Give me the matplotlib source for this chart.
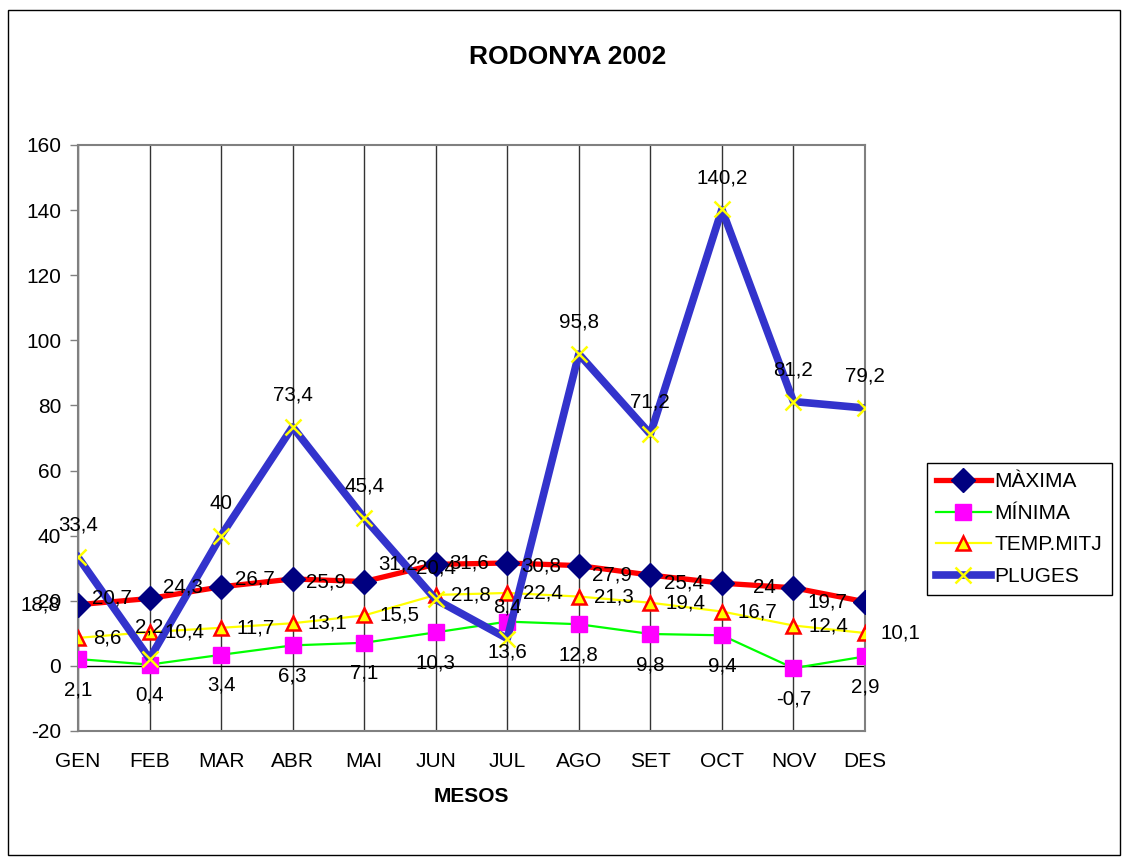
import matplotlib
matplotlib.use("Agg")
import matplotlib.pyplot as plt
from matplotlib.patches import Rectangle

plt.rcParams['font.family'] = ['Liberation Sans', 'DejaVu Sans']

# ---- data ----
mesos = ["GEN", "FEB", "MAR", "ABR", "MAI", "JUN", "JUL", "AGO", "SET", "OCT", "NOV", "DES"]
maxima = [18.8, 20.7, 24.3, 26.7, 25.9, 31.2, 31.6, 30.8, 27.9, 25.4, 24, 19.7]
minima = [2.1, 0.4, 3.4, 6.3, 7.1, 10.3, 13.6, 12.8, 9.8, 9.4, -0.7, 2.9]
temp_mitj = [8.6, 10.4, 11.7, 13.1, 15.5, 21.8, 22.4, 21.3, 19.4, 16.7, 12.4, 10.1]
pluges = [33.4, 2.2, 40, 73.4, 45.4, 20.4, 8.4, 95.8, 71.2, 140.2, 81.2, 79.2]
y_ticks = [-20, 0, 20, 40, 60, 80, 100, 120, 140, 160]


def fmt(v):
    s = f"{v:g}"
    return s.replace(".", ",")


W, H = 1129, 858
fig = plt.figure(figsize=(W / 100, H / 100), dpi=100)
ax = fig.add_axes([78 / W, 1 - 731 / H, (865 - 78) / W, (731 - 145) / H])

x = list(range(len(mesos)))

ax.plot(x, maxima, color='#FF0000', linewidth=3.8, marker='D', markersize=12,
        markerfacecolor='#000080', markeredgecolor='#000080', label='MÀXIMA', zorder=3)
ax.plot(x, minima, color='#00FF00', linewidth=1.6, marker='s', markersize=11,
        markerfacecolor='#FF00FF', markeredgecolor='#FF00FF', label='MÍNIMA', zorder=4)
ax.plot(x, temp_mitj, color='#FFFF00', linewidth=1.6, marker='^', markersize=10,
        markerfacecolor='#FFFF00', markeredgecolor='#FF0000', markeredgewidth=1.8,
        label='TEMP.MITJ', zorder=5)
ax.plot(x, pluges, color='#3333CC', linewidth=5.5, marker='x', markersize=12,
        markeredgecolor='#FFFF00', markeredgewidth=1.8, label='PLUGES', zorder=6)

# data labels (Excel style)
lab_fs = 14.8
for xi, v in zip(x, maxima):
    ax.annotate(fmt(v), (xi, v), xytext=(-13, 0), textcoords='offset points',
                ha='right', va='center', fontsize=lab_fs, zorder=10)
for xi, v in zip(x, minima):
    ax.annotate(fmt(v), (xi, v), xytext=(0, -22), textcoords='offset points',
                ha='center', va='center', fontsize=lab_fs, zorder=10)
for xi, v in zip(x, temp_mitj):
    ax.annotate(fmt(v), (xi, v), xytext=(11, 0), textcoords='offset points',
                ha='left', va='center', fontsize=lab_fs, zorder=10)
for xi, v in zip(x, pluges):
    ax.annotate(fmt(v), (xi, v), xytext=(0, 23), textcoords='offset points',
                ha='center', va='center', fontsize=lab_fs, zorder=10)

ax.set_xlim(0, len(mesos) - 1)
ax.set_ylim(-20, 160)
ax.set_yticks(y_ticks)
ax.set_yticklabels([str(t) for t in y_ticks], fontsize=15)
ax.set_xticks(x)
ax.set_xticklabels(mesos, fontsize=15)
ax.tick_params(axis='y', length=6, width=1, color='#808080', pad=6)
ax.tick_params(axis='x', length=0, pad=15)

# vertical grid and zero line
for xi in x:
    ax.axvline(xi, color='#333333', linewidth=1, zorder=1)
ax.axhline(0, color='#000000', linewidth=1, zorder=1)

for sp in ax.spines.values():
    sp.set_color('#808080')
    sp.set_linewidth(1.5)

fig.text(568 / W, 1 - 57 / H, "RODONYA 2002", ha='center', va='center',
         fontsize=19, fontweight='bold')
fig.text(471 / W, 1 - 797 / H, "MESOS", ha='center', va='center',
         fontsize=15, fontweight='bold')

leg = fig.legend(loc='upper left', bbox_to_anchor=(927 / W, 1 - 463 / H),
                 fontsize=15, frameon=True, fancybox=False, framealpha=1,
                 edgecolor='#000000', handlelength=2.6, handletextpad=0.2,
                 labelspacing=0.6, borderpad=0.45, borderaxespad=0)
leg.get_frame().set_linewidth(1)

# outer chart border
fig.patches.append(Rectangle((8 / W, 1 - 855 / H), (1120 - 8) / W, (855 - 10) / H,
                             transform=fig.transFigure, fill=False,
                             edgecolor='#000000', linewidth=1))

fig.savefig("out.png", dpi=100)
